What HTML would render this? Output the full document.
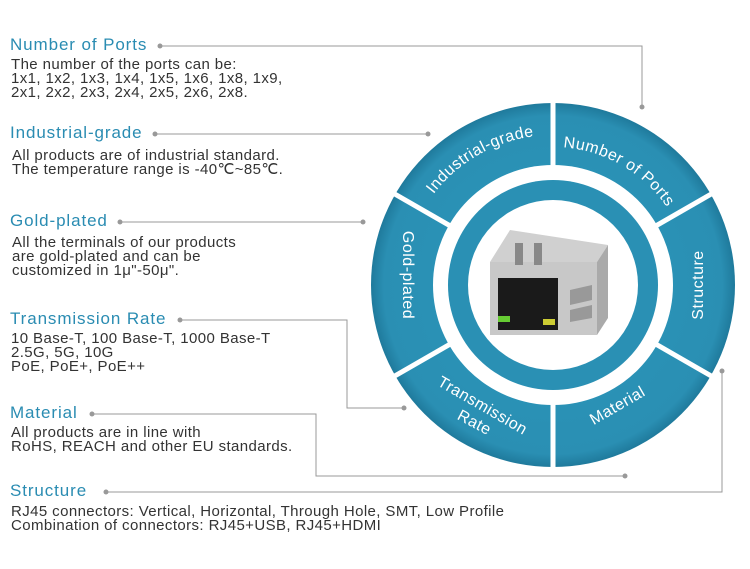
<!DOCTYPE html>
<html><head><meta charset="utf-8"><style>
html,body{margin:0;padding:0;background:#fff;}
body{width:750px;height:569px;position:relative;overflow:hidden;font-family:"Liberation Sans",sans-serif;}
.t{position:absolute;left:10px;font-size:17px;color:#2a8cb2;white-space:nowrap;letter-spacing:0.9px}
.b{position:absolute;left:11px;font-size:15px;line-height:14px;color:#333;white-space:nowrap;letter-spacing:0.4px}
svg{position:absolute;left:0;top:0}
</style></head><body>
<svg width="750" height="569" viewBox="0 0 750 569">
<defs>
<radialGradient id="g" cx="553" cy="285" r="182" gradientUnits="userSpaceOnUse">
<stop offset="0.6" stop-color="#2a92b6"/><stop offset="0.93" stop-color="#2a8fb3"/><stop offset="1" stop-color="#1f7a9c"/>
</radialGradient>
</defs>
<g stroke="#999" stroke-width="1" fill="none">
<polyline points="160,46 642,46 642,107"/>
<polyline points="155,134 428,134"/>
<polyline points="120,222 363,222"/>
<polyline points="180,320 347,320 347,408 404,408"/>
<polyline points="92,414 316,414 316,476 625,476"/>
<polyline points="106,492 722,492 722,371"/>
</g>
<g fill="#999">
<circle cx="160" cy="46" r="2.5"/><circle cx="642" cy="107" r="2.5"/>
<circle cx="155" cy="134" r="2.5"/><circle cx="428" cy="134" r="2.5"/>
<circle cx="120" cy="222" r="2.5"/><circle cx="363" cy="222" r="2.5"/>
<circle cx="180" cy="320" r="2.5"/><circle cx="404" cy="408" r="2.5"/>
<circle cx="92" cy="414" r="2.5"/><circle cx="625" cy="476" r="2.5"/>
<circle cx="106" cy="492" r="2.5"/><circle cx="722" cy="371" r="2.5"/>
</g>
<circle cx="553" cy="285" r="182" fill="url(#g)"/>
<g stroke="#fff" stroke-width="5">
<line x1="553" y1="285" x2="553" y2="100"/>
<line x1="553" y1="285" x2="553" y2="470"/>
<line x1="553" y1="285" x2="713" y2="193"/>
<line x1="553" y1="285" x2="393" y2="193"/>
<line x1="553" y1="285" x2="713" y2="377"/>
<line x1="553" y1="285" x2="393" y2="377"/>
</g>
<circle cx="553" cy="285" r="120" fill="#fff"/>
<circle cx="553" cy="285" r="105" fill="#2a90b4"/>
<circle cx="553" cy="285" r="85" fill="#fff"/>
<path id="a1" d="M 423.1 210 A 150 150 0 0 1 553 135" fill="none"/>
<path id="a2" d="M 553 147 A 138 138 0 0 1 672.5 216" fill="none"/>
<g fill="#fff" font-family="Liberation Sans,sans-serif" font-size="16" letter-spacing="0.5">
<text><textPath href="#a1" startOffset="50%" text-anchor="middle">Industrial-grade</textPath></text>
<text><textPath href="#a2" startOffset="50%" text-anchor="middle">Number of Ports</textPath></text>
<text transform="translate(703,285) rotate(-90)" text-anchor="middle">Structure</text>
<text transform="translate(403,275) rotate(90)" text-anchor="middle">Gold-plated</text>
<text transform="translate(620,410) rotate(-30)" text-anchor="middle">Material</text>
<text transform="translate(480,410) rotate(30)" text-anchor="middle">Transmission</text>
<text transform="translate(472,427) rotate(28)" text-anchor="middle">Rate</text>
</g>
<g>
<polygon points="490,262 597,262 608,245 510,230" fill="#d0d0d0"/>
<polygon points="597,262 608,245 608,318 597,335" fill="#aaa"/>
<rect x="490" y="262" width="107" height="73" fill="#c8c8c8"/>
<rect x="498" y="278" width="60" height="52" fill="#1a1a1a"/>
<rect x="515" y="243" width="8" height="22" fill="#888"/>
<rect x="534" y="243" width="8" height="22" fill="#888"/>
<rect x="498" y="316" width="12" height="6" fill="#6c3"/>
<rect x="543" y="319" width="12" height="6" fill="#cc3"/>
<polygon points="570,290 592,285 592,300 570,305" fill="#999"/>
<polygon points="570,310 592,305 592,318 570,322" fill="#999"/>
</g>
</svg>
<div class="t" style="top:35px">Number of Ports</div>
<div class="b" style="top:58px">The number of the ports can be:<br>1x1, 1x2, 1x3, 1x4, 1x5, 1x6, 1x8, 1x9,<br>2x1, 2x2, 2x3, 2x4, 2x5, 2x6, 2x8.</div>
<div class="t" style="top:123px">Industrial-grade</div>
<div class="b" style="top:149px;left:12px">All products are of industrial standard.<br>The temperature range is -40℃~85℃.</div>
<div class="t" style="top:211px">Gold-plated</div>
<div class="b" style="top:236px;left:12px">All the terminals of our products<br>are gold-plated and can be<br>customized in 1μ"-50μ".</div>
<div class="t" style="top:309px">Transmission Rate</div>
<div class="b" style="top:332px">10 Base-T, 100 Base-T, 1000 Base-T<br>2.5G, 5G, 10G<br>PoE, PoE+, PoE++</div>
<div class="t" style="top:403px">Material</div>
<div class="b" style="top:426px">All products are in line with<br>RoHS, REACH and other EU standards.</div>
<div class="t" style="top:481px">Structure</div>
<div class="b" style="top:505px">RJ45 connectors: Vertical, Horizontal, Through Hole, SMT, Low Profile<br>Combination of connectors: RJ45+USB, RJ45+HDMI</div>
</body></html>
